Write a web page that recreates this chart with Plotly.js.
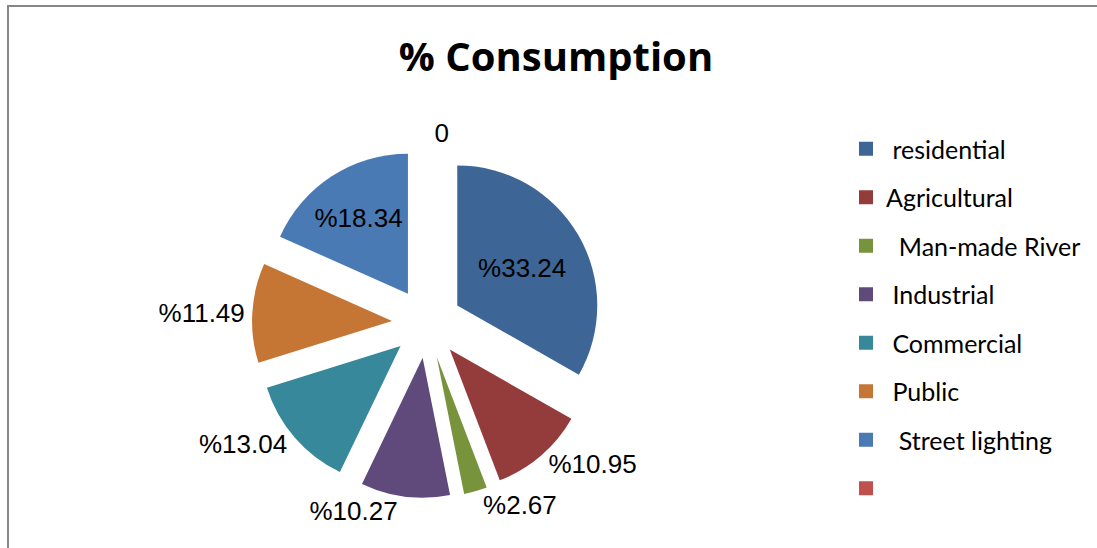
<!DOCTYPE html>
<html>
<head>
<meta charset="utf-8">
<script src="https://cdn.plot.ly/plotly-3.0.1.min.js"></script>
<style>html,body{margin:0;padding:0;background:#fff;}#chart{width:1097px;height:548px;}</style>
</head>
<body>
<div id="chart"></div>
<script>
// ---- data ----
const categories = ["residential", "Agricultural", "Man-made River", "Industrial", "Commercial", "Public", "Street lighting", ""];
const legendLabels = ["\u00a0residential", "Agricultural", "\u00a0\u00a0Man-made River", "\u00a0Industrial", "\u00a0Commercial", "\u00a0Public", "\u00a0\u00a0Street lighting", " "];
const values = [33.24, 10.95, 2.67, 10.27, 13.04, 11.49, 18.34, 0];
const valueLabels = ["%33.24", "%10.95", "%2.67", "%10.27", "%13.04", "%11.49", "%18.34", "0"];
const colors = ["#3d6596", "#943c3b", "#77933c", "#604a7b", "#37889a", "#c57634", "#4a7ab4", "#c0504d"];
const labelPositions = ["inside", "outside", "outside", "outside", "outside", "outside", "inside", "outside"];

const W = 1097, H = 548;
const px = (x) => x / W;
const py = (y) => 1 - y / H;

const labelFont = { family: "Liberation Sans, Arial, sans-serif", size: 26, color: "#000" };

const pie = {
  type: "pie",
  labels: categories.map((c, i) => c || ("blank" + i)),
  values: values,
  text: valueLabels,
  textinfo: "text",
  textposition: labelPositions,
  sort: false,
  direction: "clockwise",
  rotation: 0,
  pull: values.map(() => 0.25),
  marker: { colors: colors, line: { width: 0 } },
  textfont: labelFont,
  insidetextfont: labelFont,
  outsidetextfont: labelFont,
  insidetextorientation: "horizontal",
  domain: { x: [px(252), px(602)], y: [py(498), py(148)] },
  showlegend: false,
  hoverinfo: "label+value"
};

const legendTraces = categories.map((c, i) => ({
  type: "scatter",
  mode: "markers",
  x: [null], y: [null],
  name: legendLabels[i],
  legendgroup: "g" + i,
  marker: { symbol: "square", size: 14, color: colors[i] },
  showlegend: true,
  hoverinfo: "skip"
}));

const layout = {
  width: W, height: H,
  margin: { l: 0, r: 0, t: 0, b: 0 },
  paper_bgcolor: "#fff",
  plot_bgcolor: "#fff",
  title: {
    text: "<b>% Consumption</b>",
    font: { family: "Open Sans, sans-serif", size: 40, color: "#000" },
    x: px(556), xanchor: "center",
    y: py(57), yanchor: "middle"
  },
  xaxis: { visible: false },
  yaxis: { visible: false },
  legend: {
    x: px(846), xanchor: "left",
    y: py(126), yanchor: "top",
    font: { family: "Lato, sans-serif", size: 25, color: "#000" },
    tracegroupgap: 13,
    bgcolor: "rgba(0,0,0,0)",
    borderwidth: 0
  },
  shapes: [{
    type: "rect", xref: "paper", yref: "paper",
    x0: px(8), x1: 1.2, y0: -0.2, y1: py(6),
    line: { color: "#868686", width: 2 }, fillcolor: "rgba(0,0,0,0)"
  }],
  showlegend: true
};

Plotly.newPlot("chart", [pie].concat(legendTraces), layout, { displayModeBar: false, staticPlot: true });
</script>
</body>
</html>
